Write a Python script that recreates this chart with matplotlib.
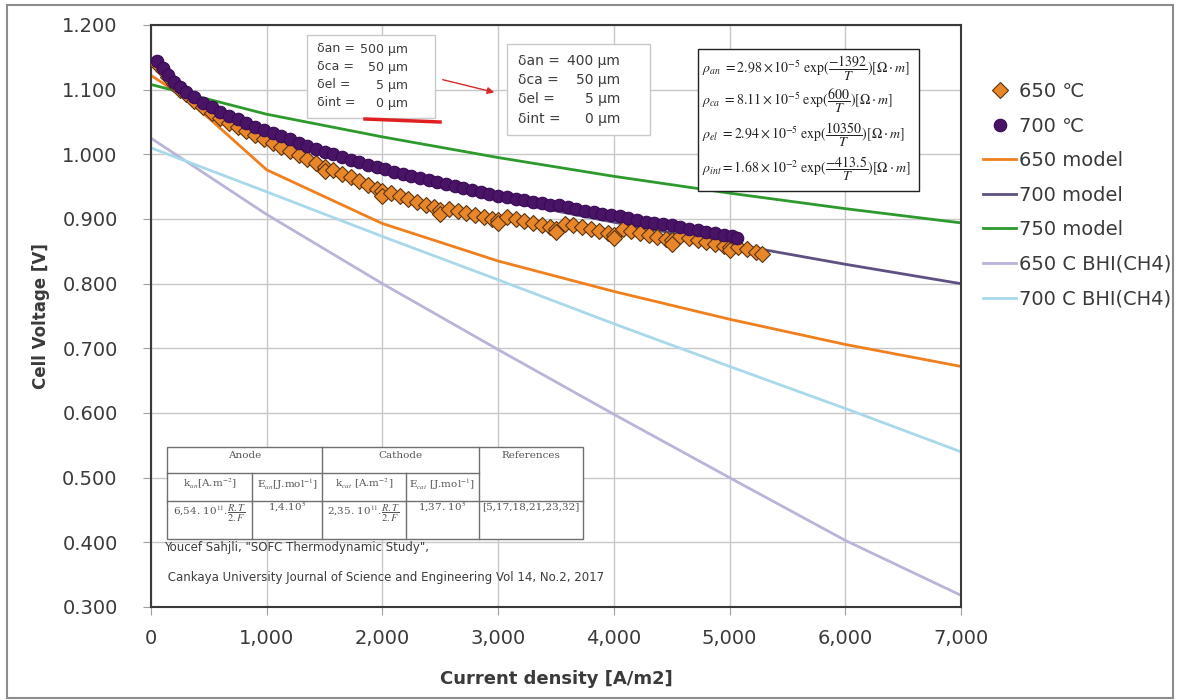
import numpy as np
import matplotlib
matplotlib.use("Agg")
import matplotlib.pyplot as plt
import matplotlib.ticker as ticker
from matplotlib.patches import Rectangle, FancyArrowPatch
from matplotlib.lines import Line2D

plt.rcParams['font.family'] = ['DejaVu Sans']
plt.rcParams['mathtext.fontset'] = 'stix'

# measured data, 650 C (diamonds)
x_650 = [50, 100, 150, 200, 250, 300, 375, 450, 525, 600, 675, 750, 825, 900, 975,
         1050, 1125, 1200, 1275, 1350, 1425, 1500, 1500, 1575, 1650, 1725, 1800, 1875,
         1950, 2000, 2000, 2075, 2150, 2225, 2300, 2375, 2450, 2500, 2500, 2575, 2650,
         2725, 2800, 2875, 2950, 3000, 3000, 3075, 3150, 3225, 3300, 3375, 3450, 3500,
         3500, 3575, 3650, 3725, 3800, 3875, 3950, 4000, 4000, 4075, 4150, 4225, 4300,
         4375, 4450, 4500, 4500, 4575, 4650, 4725, 4800, 4875, 4950, 5000, 5000, 5075,
         5150, 5225, 5280]
v_650 = [1.140, 1.130, 1.119, 1.109, 1.100, 1.093, 1.082, 1.073, 1.064, 1.056, 1.049,
         1.042, 1.036, 1.030, 1.024, 1.017, 1.011, 1.005, 0.999, 0.993, 0.987, 0.980,
         0.974, 0.976, 0.970, 0.965, 0.959, 0.953, 0.947, 0.943, 0.936, 0.940, 0.936,
         0.931, 0.927, 0.922, 0.918, 0.914, 0.908, 0.915, 0.912, 0.909, 0.906, 0.903,
         0.900, 0.898, 0.894, 0.903, 0.900, 0.897, 0.894, 0.891, 0.888, 0.885, 0.880,
         0.893, 0.890, 0.887, 0.884, 0.881, 0.878, 0.876, 0.871, 0.884, 0.881, 0.878,
         0.875, 0.872, 0.869, 0.867, 0.862, 0.874, 0.871, 0.868, 0.865, 0.862, 0.859,
         0.857, 0.852, 0.857, 0.853, 0.849, 0.846]

# measured data, 700 C (circles)
x_700 = [50, 100, 150, 200, 250, 300, 375, 450, 525, 600, 675, 750, 825, 900, 975,
         1050, 1125, 1200, 1275, 1350, 1425, 1500, 1575, 1650, 1725, 1800, 1875, 1950,
         2025, 2100, 2175, 2250, 2325, 2400, 2475, 2550, 2625, 2700, 2775, 2850, 2925,
         3000, 3075, 3150, 3225, 3300, 3375, 3450, 3525, 3600, 3675, 3750, 3825, 3900,
         3975, 4050, 4125, 4200, 4275, 4350, 4425, 4500, 4575, 4650, 4725, 4800, 4875,
         4950, 5025, 5060]
v_700 = [1.145, 1.133, 1.122, 1.112, 1.104, 1.097, 1.088, 1.080, 1.073, 1.066, 1.060,
         1.054, 1.049, 1.043, 1.038, 1.033, 1.028, 1.023, 1.018, 1.013, 1.009, 1.004,
         1.000, 0.996, 0.992, 0.988, 0.984, 0.980, 0.977, 0.973, 0.970, 0.966, 0.963,
         0.960, 0.957, 0.954, 0.951, 0.948, 0.945, 0.942, 0.939, 0.936, 0.934, 0.931,
         0.929, 0.926, 0.924, 0.921, 0.921, 0.918, 0.915, 0.913, 0.911, 0.908, 0.906,
         0.904, 0.901, 0.899, 0.896, 0.894, 0.892, 0.890, 0.888, 0.885, 0.883, 0.880,
         0.878, 0.876, 0.873, 0.870]

# model curves
x_m650 = [0, 250, 500, 750, 1000, 2000, 3000, 4000, 5000, 6000, 7000]
v_m650 = [1.122, 1.093, 1.056, 1.016, 0.976, 0.893, 0.835, 0.788, 0.745, 0.706, 0.672]
x_m700 = [0, 250, 500, 1000, 2000, 3000, 4000, 5000, 6000, 7000]
v_m700 = [1.140, 1.100, 1.068, 1.028, 0.972, 0.930, 0.895, 0.862, 0.830, 0.800]
x_m750 = [0, 1000, 2000, 3000, 4000, 5000, 6000, 7000]
v_m750 = [1.108, 1.062, 1.027, 0.995, 0.966, 0.940, 0.916, 0.894]
x_bhi = [0, 1000, 2000, 3000, 4000, 5000, 6000, 7000]
v_bhi650 = [1.025, 0.907, 0.800, 0.698, 0.598, 0.500, 0.403, 0.318]
v_bhi700 = [1.010, 0.942, 0.873, 0.806, 0.738, 0.672, 0.607, 0.540]

W, H = 1178, 700
fig = plt.figure(figsize=(W / 100, H / 100), dpi=100)


def fx(x):
    return x / W


def fy(y):
    return 1 - y / H


ax = fig.add_axes([fx(151), fy(607), fx(961) - fx(151), fy(25) - fy(607)])

ax.plot(x_m650, v_m650, color="#f07f1e", lw=2, label="650 model", zorder=2)
ax.plot(x_m700, v_m700, color="#5e5080", lw=2, label="700 model", zorder=2)
ax.plot(x_m750, v_m750, color="#2e9a2e", lw=2, label="750 model", zorder=2)
ax.plot(x_bhi, v_bhi650, color="#b8b5d8", lw=2, label="650 C BHI(CH4)", zorder=2)
ax.plot(x_bhi, v_bhi700, color="#a8d8ea", lw=2, label="700 C BHI(CH4)", zorder=2)
ax.plot(x_650, v_650, ls="none", marker="D", ms=8, mfc="#e8862a", mec="#5b3410",
        mew=0.8, label="650 ℃", zorder=3)
ax.plot(x_700, v_700, ls="none", marker="o", ms=9, mfc="#4a1466", mec="#3a0a55",
        mew=0.8, label="700 ℃", zorder=4)

ax.set_xlim(0, 7000)
ax.set_ylim(0.3, 1.2)
ax.xaxis.set_major_locator(ticker.MultipleLocator(1000))
ax.yaxis.set_major_locator(ticker.MultipleLocator(0.1))
ax.xaxis.set_major_formatter(ticker.FuncFormatter(lambda v, _: f"{v:,.0f}"))
ax.yaxis.set_major_formatter(ticker.FuncFormatter(lambda v, _: f"{v:.3f}"))
ax.grid(True, color="#c8c8c8", lw=1)
ax.set_axisbelow(True)
for s in ax.spines.values():
    s.set_color("#3a3a3a")
    s.set_linewidth(1.5)
ax.tick_params(axis="both", direction="out", length=6, color="#a0a0a0",
               labelcolor="#3a3a3a", labelsize=14)
ax.tick_params(axis="y", pad=18)
ax.tick_params(axis="x", pad=10)
ax.set_xlabel("Current density [A/m2]", fontsize=13, fontweight="bold",
              color="#3a3a3a", labelpad=16)
ax.set_ylabel("Cell Voltage [V]", fontsize=12, fontweight="bold", color="#3a3a3a",
              labelpad=9)

handles, labels = ax.get_legend_handles_labels()
order = [5, 6, 0, 1, 2, 3, 4]
fig.legend([handles[i] for i in order], [labels[i] for i in order],
           loc="upper left", bbox_to_anchor=(fx(983), fy(82)), frameon=False,
           fontsize=14, handlelength=1.7, handletextpad=0.15, labelspacing=0.8,
           borderpad=0, borderaxespad=0, labelcolor="#3a3a3a")

# outer chart frame
fig.add_artist(Rectangle((fx(7), fy(698)), fx(1173) - fx(7), fy(5) - fy(698),
                         transform=fig.transFigure, fill=False, ec="#8c8c8c", lw=1.5))


def box(x0, y0, x1, y1, ec, lw=1):
    fig.add_artist(Rectangle((fx(x0), fy(y1)), fx(x1) - fx(x0), fy(y0) - fy(y1),
                             transform=fig.transFigure, fc="white", ec=ec, lw=lw,
                             zorder=5))


def txt(x, y, s, **kw):
    kw.setdefault("color", "#3c3c3c")
    kw.setdefault("va", "center")
    fig.text(fx(x), fy(y), s, zorder=6, **kw)


# thickness boxes
box(307, 35, 435, 118, "#c8c8c8")
rows1 = [("δan =", "500 µm"), ("δca =", "50 µm"), ("δel =", "5 µm"), ("δint =", "0 µm")]
for (a, b), yy in zip(rows1, [49, 67, 85, 103]):
    txt(317, yy, a, fontsize=9)
    txt(408, yy, b, fontsize=9, ha="right")
box(507, 44, 650, 135, "#c8c8c8")
rows2 = [("δan =", "400 µm"), ("δca =", "50 µm"), ("δel =", "5 µm"), ("δint =", "0 µm")]
for (a, b), yy in zip(rows2, [61, 80, 99, 119]):
    txt(518, yy, a, fontsize=10)
    txt(620, yy, b, fontsize=10, ha="right")

fig.add_artist(FancyArrowPatch((fx(440), fy(79)), (fx(497), fy(93)),
                               transform=fig.transFigure, arrowstyle="-|>",
                               mutation_scale=10, color="#d42a2a", lw=1, zorder=6))
fig.add_artist(Line2D([fx(365), fx(440)], [fy(119), fy(122)], transform=fig.transFigure,
                      color="#e02020", lw=2.5, zorder=6))

# resistivity formulas
box(698, 49, 919, 191, "#222222")
formulas = [
    r"$\rho_{an}\ =2.98\times10^{-5}\ \exp(\dfrac{-1392}{T})[\Omega\cdot m]$",
    r"$\rho_{ca}\ =8.11\times10^{-5}\ \exp(\dfrac{600}{T})[\Omega\cdot m]$",
    r"$\rho_{el}\ =2.94\times10^{-5}\ \exp(\dfrac{10350}{T})[\Omega\cdot m]$",
    r"$\rho_{int}=1.68\times10^{-2}\ \exp(\dfrac{-413.5}{T})[\Omega\cdot m]$",
]
for s, yy in zip(formulas, [68, 101, 135, 169]):
    txt(702, yy, s, fontsize=10, color="#222222")

# kinetic parameter table
box(167, 447, 583, 539, "#707070")
tc = "#707070"
for (x0, y0, x1, y1) in [(167, 473, 479, 473), (167, 501, 583, 501),
                         (322, 447, 322, 539), (479, 447, 479, 539),
                         (252, 473, 252, 539), (406, 473, 406, 539)]:
    fig.add_artist(Line2D([fx(x0), fx(x1)], [fy(y0), fy(y1)], transform=fig.transFigure,
                          color=tc, lw=1, zorder=6))
tf = dict(fontsize=7.5, color="#555555", ha="center", family="DejaVu Serif")
txt(245, 456, "Anode", **tf)
txt(400, 456, "Cathode", **tf)
txt(531, 456, "References", **tf)
txt(210, 484, r"k$_{an}$[A.m$^{-2}$]", **tf)
txt(287, 484, r"E$_{an}$[J.mol$^{-1}$]", **tf)
txt(364, 484, r"k$_{cat}$ [A.m$^{-2}$]", **tf)
txt(442, 484, r"E$_{cat}$ [J.mol$^{-1}$]", **tf)
txt(210, 513, r"6,54. 10$^{11}$.$\dfrac{R.T}{2.F}$", **tf)
txt(287, 507, r"1,4.10$^{5}$", **tf)
txt(364, 513, r"2,35. 10$^{11}$.$\dfrac{R.T}{2.F}$", **tf)
txt(442, 507, r"1,37. 10$^{5}$", **tf)
txt(531, 507, "[5,17,18,21,23,32]", **tf)

txt(164, 548, 'Youcef Sahjli, "SOFC Thermodynamic Study",', fontsize=8.5)
txt(164, 577, ' Cankaya University Journal of Science and Engineering Vol 14, No.2, 2017',
    fontsize=8.5)

fig.savefig("out.png", dpi=100)
